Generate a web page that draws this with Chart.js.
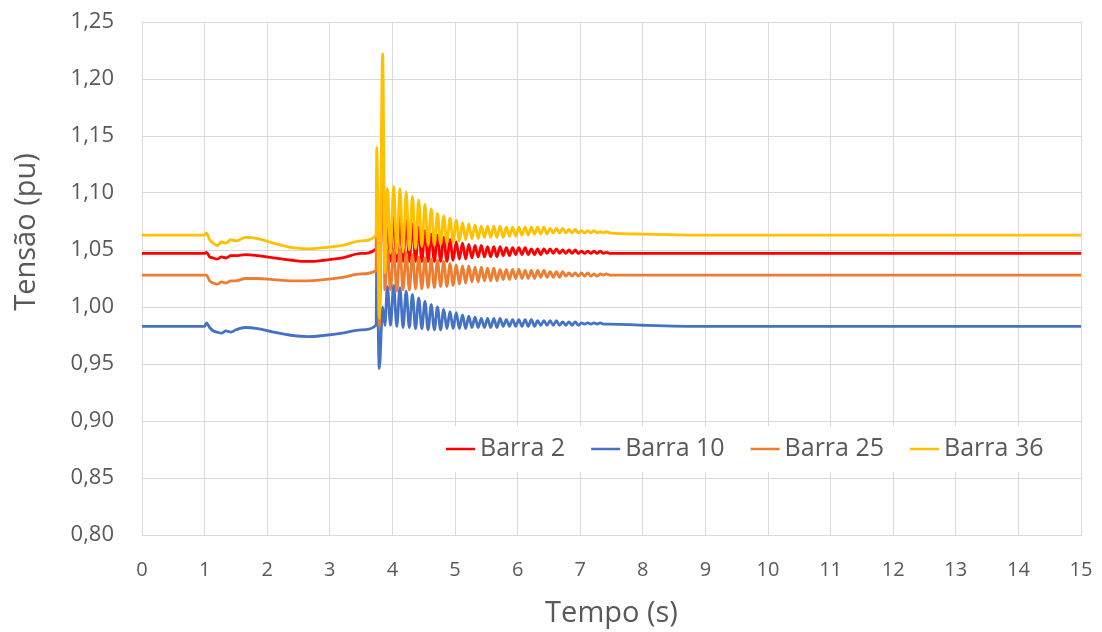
<!DOCTYPE html>
<html lang="pt">
<head>
<meta charset="utf-8">
<title>Tensão nas barras</title>
<script src="https://cdn.jsdelivr.net/npm/chart.js@4.4.1/dist/chart.umd.min.js"></script>
<style>
    html, body { margin: 0; padding: 0; background: #fff; }
    #wrap { width: 1102px; height: 632px; }
</style>
</head>
<body>
<div id="wrap"><canvas id="tensaoChart" width="1102" height="632"></canvas></div>
<script>
// tempo (s), shared by the four series
const tempo = [
    0, 1.0, 1.03, 1.08, 1.14, 1.2, 1.27, 1.34, 1.42, 1.5,
    1.65, 1.85, 2.1, 2.4, 2.65, 2.9, 3.2, 3.5, 3.74,
    3.75, 3.79, 3.845, 3.88,
    3.92, 3.97, 4.02, 4.07, 4.12, 4.17, 4.22, 4.27, 4.32, 4.37,
    4.42, 4.47, 4.52, 4.57, 4.62, 4.67, 4.72, 4.77, 4.82, 4.87,
    4.92, 4.97, 5.02, 5.07, 5.12, 5.17, 5.22, 5.27, 5.32, 5.37,
    5.42, 5.47, 5.52, 5.57, 5.62, 5.67, 5.72, 5.77, 5.82, 5.87,
    5.92, 5.97, 6.02, 6.07, 6.12, 6.17, 6.22, 6.27, 6.32, 6.37,
    6.42, 6.47, 6.52, 6.57, 6.62, 6.67, 6.72, 6.77, 6.82, 6.87,
    6.92, 6.97, 7.02, 7.07, 7.12, 7.17, 7.22, 7.27, 7.32, 7.37,
    7.42, 7.47,
    8, 9, 10, 15
];

const barra2 = [
    1.047, 1.047, 1.048, 1.044, 1.043, 1.042, 1.044, 1.043, 1.045, 1.045,
    1.046, 1.045, 1.043, 1.041, 1.040, 1.041, 1.043, 1.047, 1.051,
    1.095, 1.000, 1.150, 1.035,
    1.080, 1.040, 1.081, 1.040, 1.079, 1.040, 1.076, 1.040, 1.073, 1.040,
    1.070, 1.040, 1.067, 1.040, 1.064, 1.040, 1.063, 1.040, 1.061, 1.040,
    1.059, 1.041, 1.057, 1.042, 1.056, 1.042, 1.055, 1.043, 1.054, 1.044,
    1.054, 1.044, 1.053, 1.044, 1.053, 1.044, 1.053, 1.045, 1.052, 1.045,
    1.052, 1.046, 1.052, 1.046, 1.052, 1.046, 1.051, 1.046, 1.051, 1.046,
    1.051, 1.047, 1.051, 1.047, 1.051, 1.047, 1.050, 1.047, 1.050, 1.047,
    1.050, 1.047, 1.049, 1.047, 1.049, 1.047, 1.049, 1.047, 1.049, 1.047,
    1.048, 1.047,
    1.047, 1.047, 1.047, 1.047
];

const barra10 = [
    0.983, 0.983, 0.986, 0.982, 0.979, 0.978, 0.977, 0.979, 0.978, 0.980,
    0.982, 0.981, 0.978, 0.975, 0.974, 0.975, 0.977, 0.980, 0.984,
    1.047, 0.946, 1.000, 0.984,
    1.018, 0.984, 1.019, 0.983, 1.017, 0.982, 1.014, 0.982, 1.011, 0.981,
    1.008, 0.981, 1.005, 0.980, 1.002, 0.980, 1.000, 0.980, 0.998, 0.981,
    0.996, 0.981, 0.995, 0.981, 0.993, 0.981, 0.992, 0.982, 0.991, 0.982,
    0.990, 0.982, 0.990, 0.982, 0.990, 0.982, 0.990, 0.983, 0.989, 0.983,
    0.989, 0.983, 0.989, 0.983, 0.989, 0.983, 0.989, 0.983, 0.988, 0.984,
    0.988, 0.984, 0.988, 0.984, 0.988, 0.984, 0.987, 0.984, 0.987, 0.984,
    0.987, 0.984, 0.986, 0.985, 0.986, 0.985, 0.986, 0.985, 0.986, 0.985,
    0.985, 0.985,
    0.984, 0.983, 0.983, 0.983
];

const barra25 = [
    1.028, 1.028, 1.028, 1.023, 1.021, 1.020, 1.022, 1.021, 1.023, 1.023,
    1.025, 1.025, 1.024, 1.023, 1.023, 1.024, 1.026, 1.029, 1.032,
    1.100, 0.983, 1.165, 1.015,
    1.050, 1.015, 1.051, 1.014, 1.050, 1.015, 1.048, 1.015, 1.046, 1.016,
    1.044, 1.016, 1.043, 1.017, 1.042, 1.017, 1.041, 1.018, 1.040, 1.018,
    1.038, 1.019, 1.037, 1.020, 1.036, 1.021, 1.036, 1.022, 1.035, 1.022,
    1.035, 1.023, 1.034, 1.023, 1.034, 1.023, 1.033, 1.024, 1.033, 1.024,
    1.033, 1.025, 1.033, 1.025, 1.032, 1.025, 1.032, 1.025, 1.032, 1.026,
    1.032, 1.026, 1.031, 1.026, 1.031, 1.026, 1.031, 1.027, 1.030, 1.027,
    1.030, 1.027, 1.030, 1.027, 1.030, 1.027, 1.029, 1.027, 1.029, 1.028,
    1.029, 1.028,
    1.028, 1.028, 1.028, 1.028
];

const barra36 = [
    1.063, 1.063, 1.065, 1.059, 1.056, 1.054, 1.057, 1.056, 1.059, 1.058,
    1.061, 1.060, 1.056, 1.052, 1.051, 1.052, 1.054, 1.058, 1.063,
    1.140, 0.990, 1.222, 1.030,
    1.104, 1.047, 1.106, 1.047, 1.104, 1.048, 1.101, 1.050, 1.097, 1.051,
    1.094, 1.053, 1.090, 1.054, 1.086, 1.054, 1.082, 1.055, 1.080, 1.056,
    1.078, 1.057, 1.076, 1.058, 1.074, 1.059, 1.073, 1.060, 1.072, 1.060,
    1.071, 1.061, 1.071, 1.061, 1.071, 1.061, 1.071, 1.061, 1.070, 1.062,
    1.070, 1.062, 1.070, 1.063, 1.070, 1.063, 1.070, 1.064, 1.070, 1.064,
    1.070, 1.064, 1.069, 1.065, 1.069, 1.065, 1.069, 1.065, 1.068, 1.065,
    1.068, 1.065, 1.067, 1.065, 1.067, 1.065, 1.067, 1.065, 1.066, 1.065,
    1.066, 1.065,
    1.064, 1.063, 1.063, 1.063
];

const nomes = ["Barra 2", "Barra 10", "Barra 25", "Barra 36"];
const cores = ["#FF0000", "#4472C4", "#ED7D31", "#FFC000"];
const valores = [barra2, barra10, barra25, barra36];

const ticksX = [0, 15, 1];        // min, max, step
const ticksY = [0.80, 1.25, 0.05];

const textColor = "#595959";
const gridColor = "#d9d9d9";

// legend drawn inside the plot, over a white box (like the Excel original)
const legendaInterna = {
    id: "legendaInterna",
    afterDatasetsDraw(chart) {
        const ctx = chart.ctx;
        ctx.save();
        ctx.fillStyle = "#fff";
        ctx.fillRect(432, 426, 626, 46);
        ctx.font = '25px "Open Sans", sans-serif';
        ctx.textBaseline = "middle";
        ctx.textAlign = "left";
        let x = 446;
        const y = 449;
        nomes.forEach((nome, i) => {
            ctx.strokeStyle = cores[i];
            ctx.lineWidth = 2.5;
            ctx.beginPath();
            ctx.moveTo(x, y);
            ctx.lineTo(x + 29, y);
            ctx.stroke();
            ctx.fillStyle = textColor;
            ctx.fillText(nome, x + 34, y);
            x += 34 + ctx.measureText(nome).width + 26;
        });
        ctx.restore();
    },
    afterDraw(chart) {
        const ctx = chart.ctx;
        const area = chart.chartArea;
        ctx.save();
        ctx.fillStyle = textColor;
        ctx.font = '29px "Open Sans", sans-serif';
        ctx.textAlign = "center";
        ctx.textBaseline = "alphabetic";
        ctx.fillText("Tempo (s)", (area.left + area.right) / 2, 622);
        ctx.translate(35, 232);
        ctx.rotate(-Math.PI / 2);
        ctx.fillText("Tensão (pu)", 0, 0);
        ctx.restore();
    }
};

function desenhar() {
    Chart.defaults.font.family = '"Open Sans", sans-serif';
    Chart.defaults.color = textColor;

    // yellow first so it is painted on top; legend is drawn by the plugin
    const datasets = [3, 2, 1, 0].map(i => ({
        label: nomes[i],
        data: tempo.map((t, k) => ({ x: t, y: valores[i][k] })),
        borderColor: cores[i],
        backgroundColor: cores[i],
        borderWidth: 2.8,
        pointRadius: 0,
        cubicInterpolationMode: "monotone",
        fill: false
    }));

    new Chart(document.getElementById("tensaoChart"), {
        type: "line",
        data: { datasets: datasets },
        plugins: [legendaInterna],
        options: {
            responsive: false,
            animation: false,
            devicePixelRatio: 1,
            layout: { padding: { top: 22, right: 21, bottom: 0, left: 0 } },
            plugins: {
                legend: { display: false },
                tooltip: { enabled: false }
            },
            scales: {
                x: {
                    type: "linear",
                    min: ticksX[0],
                    max: ticksX[1],
                    afterFit: (s) => { s.height = 97; },
                    ticks: {
                        stepSize: ticksX[2],
                        autoSkip: false,
                        maxRotation: 0,
                        padding: 0,
                        font: { size: 20 },
                        color: textColor
                    },
                    grid: { color: gridColor, tickLength: 23, tickColor: "rgba(0,0,0,0)" },
                    border: { color: gridColor }
                },
                y: {
                    min: ticksY[0],
                    max: ticksY[1],
                    afterFit: (s) => { s.width = 142; },
                    ticks: {
                        stepSize: ticksY[2],
                        padding: 0,
                        font: { size: 22 },
                        color: textColor,
                        callback: (v) => v.toFixed(2).replace(".", ",")
                    },
                    grid: { color: gridColor, tickLength: 28, tickColor: "rgba(0,0,0,0)" },
                    border: { color: gridColor }
                }
            }
        }
    });
}

Promise.all([
    document.fonts.load('25px "Open Sans"'),
    document.fonts.load('29px "Open Sans"')
]).catch(() => {}).then(desenhar);
</script>
</body>
</html>
